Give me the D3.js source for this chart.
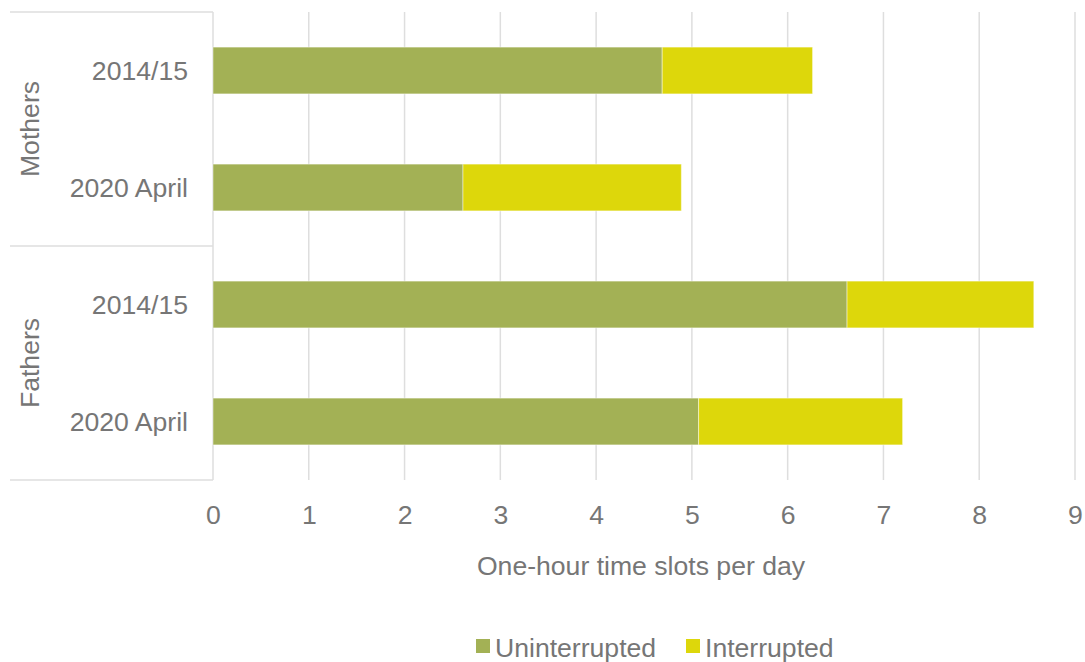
<!DOCTYPE html>
<html><head><meta charset="utf-8">
<script src="https://cdn.jsdelivr.net/npm/d3@7"></script>
<style>body{margin:0;background:#fff;} svg{display:block;font-family:"Liberation Sans",Arial,sans-serif;}</style>
</head><body>
<script>
const groups = ["Mothers", "Mothers", "Fathers", "Fathers"];
const periods = ["2014/15", "2020 April", "2014/15", "2020 April"];
const uninterrupted = [4.69, 2.61, 6.62, 5.07];
const interrupted = [1.57, 2.28, 1.95, 2.13];
const seriesNames = ["Uninterrupted", "Interrupted"];
const xTicks = [0, 1, 2, 3, 4, 5, 6, 7, 8, 9];
const groupNames = ["Mothers", "Fathers"];
const axisTitle = "One-hour time slots per day";

(function () {
const W = 1085, H = 662;
const colors = ["#A3B155", "#DDD70B"];
const textColor = "#767676";
const lineColor = "#DEDEDE";
const fs = 26.6;
const pLeft = 213, pRight = 1075, pTop = 12, pBottom = 480, outerLeft = 10;

const svg = d3.select("body").append("svg").attr("width", W).attr("height", H);

const rows = periods.map((p, i) => ({key: i, group: groups[i], period: p, u: uninterrupted[i], it: interrupted[i]}));
const x = d3.scaleLinear().domain([0, 9]).range([pLeft, pRight]);
const y = d3.scaleBand().domain(rows.map(r => r.key)).range([pTop, pBottom]).paddingInner(0.6).paddingOuter(0.3);

// gridlines
svg.append("g").selectAll("line").data(xTicks).join("line")
  .attr("x1", d => x(d)).attr("x2", d => x(d)).attr("y1", pTop).attr("y2", pBottom)
  .attr("stroke", lineColor).attr("stroke-width", 1.5);

// group separators
const gBand = d3.scaleBand().domain(groupNames).range([pTop, pBottom]);
const sepYs = [pTop, pTop + gBand.step(), pBottom];
svg.append("g").selectAll("line").data(sepYs).join("line")
  .attr("x1", outerLeft).attr("x2", pLeft).attr("y1", d => d).attr("y2", d => d)
  .attr("stroke", lineColor).attr("stroke-width", 1.5);

// stacked bars
rows.forEach(r => {
  const segs = [[0, r.u], [r.u, r.u + r.it]];
  segs.forEach((s, j) => {
    svg.append("rect")
      .attr("x", x(s[0])).attr("width", x(s[1]) - x(s[0]))
      .attr("y", y(r.key)).attr("height", y.bandwidth())
      .attr("fill", colors[j])
      .attr("stroke", "rgba(255,255,255,0.45)").attr("stroke-width", 1);
  });
});

// category labels
svg.append("g").selectAll("text").data(rows).join("text")
  .attr("x", 188).attr("y", d => y(d.key) + y.bandwidth() / 2 + 9.5)
  .attr("text-anchor", "end").attr("font-size", fs).attr("fill", textColor)
  .text(d => d.period);

// group labels
svg.append("g").selectAll("text").data(groupNames).join("text")
  .attr("transform", d => `translate(39,${gBand(d) + gBand.bandwidth() / 2}) rotate(-90)`)
  .attr("text-anchor", "middle").attr("font-size", fs).attr("fill", textColor)
  .text(d => d);

// x axis
const xAxis = d3.axisBottom(x).tickValues(xTicks).tickSize(0).tickPadding(0);
const ax = svg.append("g").attr("transform", `translate(0,${pBottom})`).call(xAxis);
ax.select(".domain").remove();
ax.selectAll("text").attr("font-size", fs).attr("fill", textColor)
  .attr("font-family", "Liberation Sans, Arial, sans-serif").attr("dy", null).attr("y", 44);

svg.append("text").attr("x", (pLeft + pRight) / 2 - 3).attr("y", 575)
  .attr("text-anchor", "middle").attr("font-size", fs).attr("fill", textColor).text(axisTitle);

// legend
const legendX = [476, 686];
const lg = svg.append("g");
seriesNames.forEach((n, i) => {
  lg.append("rect").attr("x", legendX[i]).attr("y", 639).attr("width", 14).attr("height", 14).attr("fill", colors[i]);
  lg.append("text").attr("x", legendX[i] + 19).attr("y", 657).attr("font-size", fs).attr("fill", textColor).text(n);
});
})();
</script>
</body></html>
